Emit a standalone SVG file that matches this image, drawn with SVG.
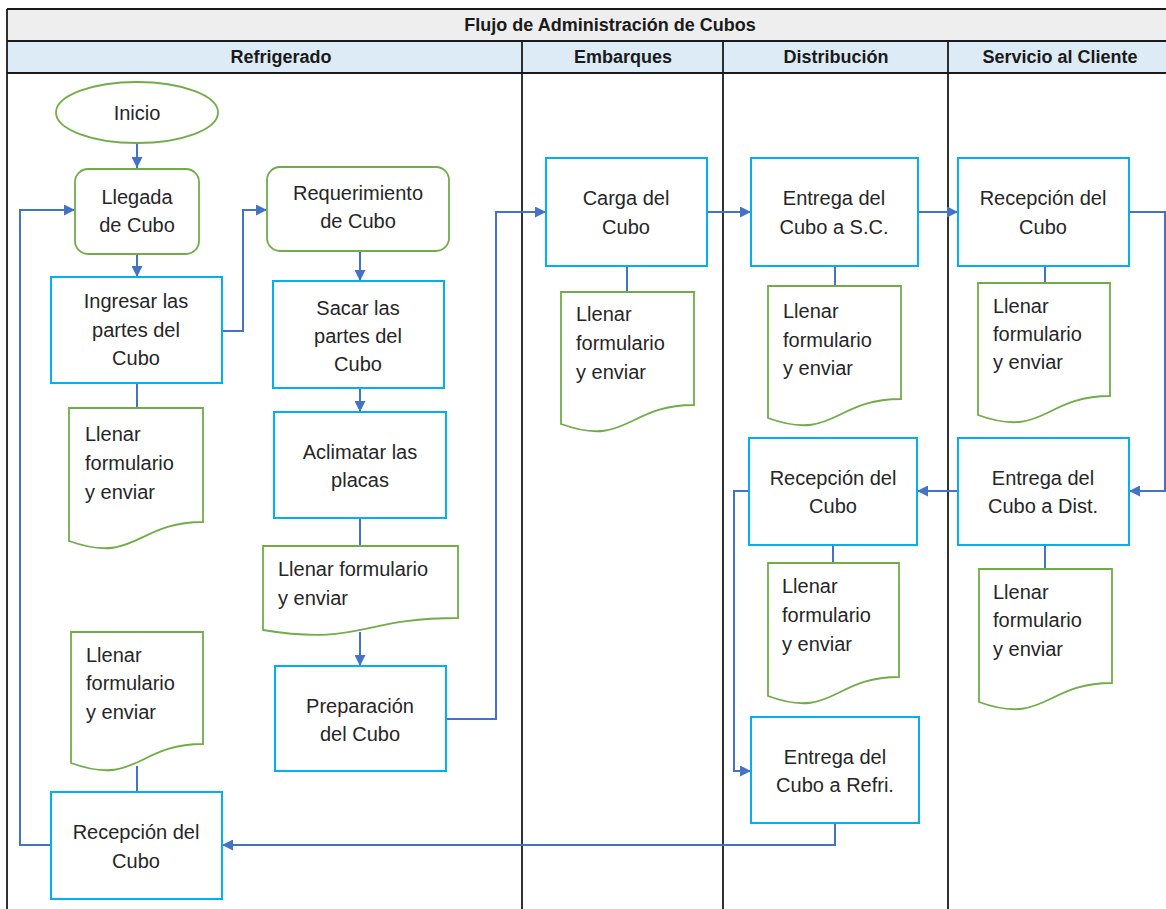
<svg xmlns="http://www.w3.org/2000/svg" width="1166" height="909" viewBox="0 0 1166 909">
<style>
.t{font-family:"Liberation Sans",Arial,sans-serif;font-size:20px;fill:#262626}
.c{text-anchor:middle}
.h{font-family:"Liberation Sans",Arial,sans-serif;font-size:18px;font-weight:bold;fill:#1a1a1a;text-anchor:middle}
.proc{fill:#fff;stroke:#00b0f0;stroke-width:2}
.grn{fill:#fff;stroke:#70ad47;stroke-width:1.8}
.cn{fill:none;stroke:#4472c4;stroke-width:2}
.ln{stroke:#1a1a1a;stroke-width:1.8}
</style>
<defs>
<marker id="ah" viewBox="0 0 10 10" refX="10" refY="5" markerWidth="11" markerHeight="11" markerUnits="userSpaceOnUse" orient="auto">
<path d="M0,0 L10,5 L0,10 Z" fill="#4472c4"/>
</marker>
</defs>
<rect x="0" y="0" width="1166" height="909" fill="#fff"/>
<g id="table">
<rect x="7" y="9" width="1170" height="32" fill="#eeeeee"/>
<rect x="7" y="41" width="1170" height="32" fill="#ddebf7"/>
<line class="ln" x1="7" y1="9" x2="1166" y2="9"/>
<line class="ln" x1="7" y1="41" x2="1166" y2="41"/>
<line class="ln" x1="7" y1="73" x2="1166" y2="73"/>
<line class="ln" x1="7" y1="9" x2="7" y2="909"/>
<line class="ln" x1="522" y1="41" x2="522" y2="909"/>
<line class="ln" x1="723" y1="41" x2="723" y2="909"/>
<line class="ln" x1="948" y1="41" x2="948" y2="909"/>
<text class="h" x="610" y="31">Flujo de Administración de Cubos</text>
<text class="h" x="281" y="63">Refrigerado</text>
<text class="h" x="623" y="63">Embarques</text>
<text class="h" x="836" y="63">Distribución</text>
<text class="h" x="1060" y="63">Servicio al Cliente</text>
</g>
<g id="connectors">
<path class="cn" d="M137,143 V168" marker-end="url(#ah)"/>
<path class="cn" d="M137,254 V277" marker-end="url(#ah)"/>
<path class="cn" d="M137,383 V408"/>
<path class="cn" d="M222,331 H243 V210 H267" marker-end="url(#ah)"/>
<path class="cn" d="M360,251 V281" marker-end="url(#ah)"/>
<path class="cn" d="M360,388 V412" marker-end="url(#ah)"/>
<path class="cn" d="M360,518 V546"/>
<path class="cn" d="M360,632 V666" marker-end="url(#ah)"/>
<path class="cn" d="M446,719 H496 V212 H546" marker-end="url(#ah)"/>
<path class="cn" d="M707,212 H751" marker-end="url(#ah)"/>
<path class="cn" d="M627,266 V292"/>
<path class="cn" d="M835,266 V286"/>
<path class="cn" d="M918,212 H958" marker-end="url(#ah)"/>
<path class="cn" d="M1045,266 V283"/>
<path class="cn" d="M1129,212 H1165 V491 H1129" marker-end="url(#ah)"/>
<path class="cn" d="M958,491 H917" marker-end="url(#ah)"/>
<path class="cn" d="M1045,545 V569"/>
<path class="cn" d="M833,545 V563"/>
<path class="cn" d="M749,491 H734 V771 H751" marker-end="url(#ah)"/>
<path class="cn" d="M835,823 V845 H222" marker-end="url(#ah)"/>
<path class="cn" d="M51,845 H20 V210 H75" marker-end="url(#ah)"/>
<path class="cn" d="M137,766 V792"/>
</g>
<g id="inicio">
<ellipse class="grn" cx="137" cy="112.5" rx="81" ry="30.5"/>
<text class="t c" x="137" y="120">Inicio</text>
</g>
<g id="llegada">
<rect class="grn" x="75" y="169" width="124" height="85" rx="13"/>
<text class="t c" x="137" y="204">Llegada</text>
<text class="t c" x="137" y="232">de Cubo</text>
</g>
<g id="ingresar">
<rect class="proc" x="51" y="277" width="171" height="106"/>
<text class="t c" x="136" y="308">Ingresar las</text>
<text class="t c" x="136" y="337">partes del</text>
<text class="t c" x="136" y="365">Cubo</text>
</g>
<g id="doc1">
<path class="grn" d="M69,408 H203 V522 C136,522 136,565 69,541 Z"/>
<text class="t" x="85" y="441">Llenar</text>
<text class="t" x="85" y="470">formulario</text>
<text class="t" x="85" y="499">y enviar</text>
</g>
<g id="requerimiento">
<rect class="grn" x="267" y="167" width="182" height="84" rx="13"/>
<text class="t c" x="358" y="200">Requerimiento</text>
<text class="t c" x="358" y="228">de Cubo</text>
</g>
<g id="sacar">
<rect class="proc" x="273" y="281" width="171" height="107"/>
<text class="t c" x="358" y="315">Sacar las</text>
<text class="t c" x="358" y="343">partes del</text>
<text class="t c" x="358" y="371">Cubo</text>
</g>
<g id="aclimatar">
<rect class="proc" x="274" y="412" width="172" height="106"/>
<text class="t c" x="360" y="459">Aclimatar las</text>
<text class="t c" x="360" y="487">placas</text>
</g>
<g id="doc2">
<path class="grn" d="M263,546 H458 V618 C360,618 360,646 263,630 Z"/>
<text class="t" x="278" y="576">Llenar formulario</text>
<text class="t" x="278" y="605">y enviar</text>
</g>
<g id="preparacion">
<rect class="proc" x="275" y="666" width="171" height="105"/>
<text class="t c" x="360" y="713">Preparación</text>
<text class="t c" x="360" y="741">del Cubo</text>
</g>
<g id="doc3">
<path class="grn" d="M71,632 H203 V744 C137,744 137,787 71,763 Z"/>
<text class="t" x="86" y="662">Llenar</text>
<text class="t" x="86" y="690">formulario</text>
<text class="t" x="86" y="719">y enviar</text>
</g>
<g id="recepcion-refri">
<rect class="proc" x="51" y="792" width="171" height="107"/>
<text class="t c" x="136" y="839">Recepción del</text>
<text class="t c" x="136" y="868">Cubo</text>
</g>
<g id="carga">
<rect class="proc" x="546" y="158" width="161" height="108"/>
<text class="t c" x="626" y="205">Carga del</text>
<text class="t c" x="626" y="234">Cubo</text>
</g>
<g id="doc4">
<path class="grn" d="M561,292 H694 V405 C627,405 627,448 561,424 Z"/>
<text class="t" x="576" y="321">Llenar</text>
<text class="t" x="576" y="350">formulario</text>
<text class="t" x="576" y="379">y enviar</text>
</g>
<g id="entrega-sc">
<rect class="proc" x="751" y="158" width="167" height="108"/>
<text class="t c" x="834" y="205">Entrega del</text>
<text class="t c" x="834" y="234">Cubo a S.C.</text>
</g>
<g id="doc5">
<path class="grn" d="M768,286 H901 V399 C834,399 834,442 768,418 Z"/>
<text class="t" x="783" y="318">Llenar</text>
<text class="t" x="783" y="347">formulario</text>
<text class="t" x="783" y="375">y enviar</text>
</g>
<g id="recepcion-sc">
<rect class="proc" x="958" y="158" width="171" height="108"/>
<text class="t c" x="1043" y="205">Recepción del</text>
<text class="t c" x="1043" y="234">Cubo</text>
</g>
<g id="doc6">
<path class="grn" d="M978,283 H1110 V396 C1044,396 1044,439 978,415 Z"/>
<text class="t" x="993" y="313">Llenar</text>
<text class="t" x="993" y="341">formulario</text>
<text class="t" x="993" y="369">y enviar</text>
</g>
<g id="entrega-dist">
<rect class="proc" x="958" y="438" width="171" height="107"/>
<text class="t c" x="1043" y="485">Entrega del</text>
<text class="t c" x="1043" y="513">Cubo a Dist.</text>
</g>
<g id="doc7">
<path class="grn" d="M979,569 H1112 V683 C1045,683 1045,726 979,702 Z"/>
<text class="t" x="993" y="599">Llenar</text>
<text class="t" x="993" y="627">formulario</text>
<text class="t" x="993" y="656">y enviar</text>
</g>
<g id="recepcion-dist">
<rect class="proc" x="749" y="438" width="168" height="107"/>
<text class="t c" x="833" y="485">Recepción del</text>
<text class="t c" x="833" y="513">Cubo</text>
</g>
<g id="doc8">
<path class="grn" d="M768,563 H899 V677 C833,677 833,720 768,696 Z"/>
<text class="t" x="782" y="593">Llenar</text>
<text class="t" x="782" y="622">formulario</text>
<text class="t" x="782" y="651">y enviar</text>
</g>
<g id="entrega-refri">
<rect class="proc" x="751" y="717" width="168" height="106"/>
<text class="t c" x="835" y="764">Entrega del</text>
<text class="t c" x="835" y="792">Cubo a Refri.</text>
</g>
</svg>
